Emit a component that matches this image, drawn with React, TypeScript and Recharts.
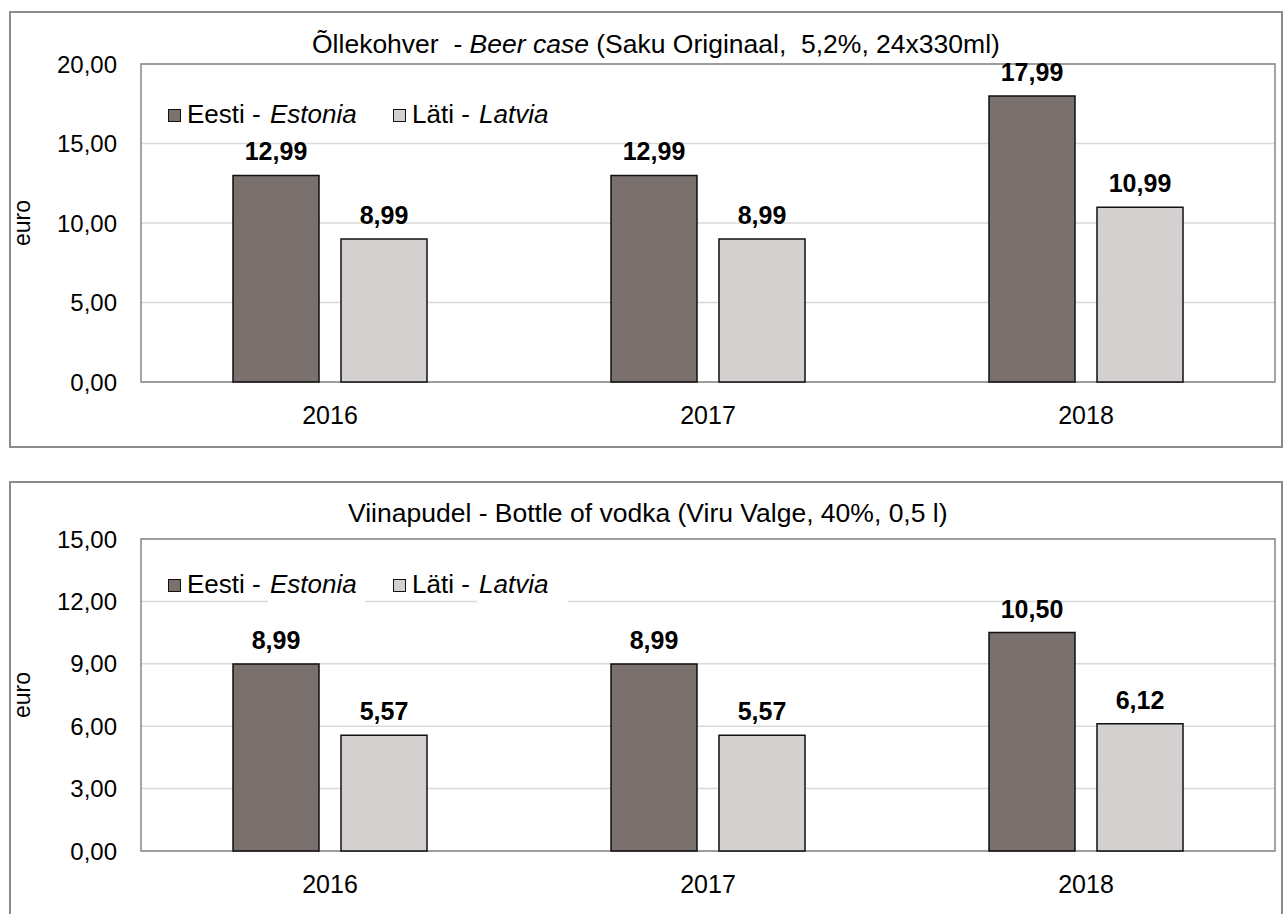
import React from 'react';
import { BarChart, Bar, XAxis, YAxis, CartesianGrid, LabelList, Legend, ReferenceArea } from 'recharts';

const categories = ['2016', '2017', '2018'];
const beerEstonia = [12.99, 12.99, 17.99];
const beerLatvia = [8.99, 8.99, 10.99];
const vodkaEstonia = [8.99, 8.99, 10.5];
const vodkaLatvia = [5.57, 5.57, 6.12];
const beerTicks = [0, 5, 10, 15, 20];
const vodkaTicks = [0, 3, 6, 9, 12, 15];

const FONT = '"Liberation Sans", Arial, Helvetica, sans-serif';
const EST_COLOR = '#7a716f';
const LAT_COLOR = '#d4d0cf';

const fmt = (v: number) => Number(v).toFixed(2).replace('.', ',');

const buildData = (est: number[], lat: number[]) =>
  categories.map((c, i) => ({ year: c, est: est[i], lat: lat[i] }));

const squareStyle = (color: string): React.CSSProperties => ({
  display: 'inline-block',
  width: 11,
  height: 11,
  background: color,
  border: '1.5px solid #111',
  marginRight: 6,
  verticalAlign: '1px',
});

const LegendContent = () => (
  <div style={{ fontFamily: FONT, fontSize: 26, lineHeight: '28px', color: '#000', whiteSpace: 'nowrap' }}>
    <span style={{ display: 'inline-block', width: 225 }}>
      <span style={squareStyle(EST_COLOR)} />
      <span>Eesti - </span>
      <span style={{ fontStyle: 'italic', background: '#fff', padding: '0 8px 6px 2px' }}>Estonia</span>
    </span>
    <span style={{ display: 'inline-block' }}>
      <span style={squareStyle(LAT_COLOR)} />
      <span>Läti - </span>
      <span style={{ fontStyle: 'italic', background: '#fff', padding: '0 20px 6px 2px' }}>Latvia</span>
    </span>
  </div>
);

type PanelProps = {
  top: number;
  height: number;
  marginTop: number;
  marginBottom: number;
  est: number[];
  lat: number[];
  ticks: number[];
  yMax: number;
};

const EuroLabel = (props: any) => {
  const vb = props.viewBox || {};
  const x = 22;
  const y = (vb.y || 0) + (vb.height || 0) / 2;
  return (
    <text x={x} y={y} transform={`rotate(-90 ${x} ${y})`} textAnchor="middle" dominantBaseline="central" fontFamily={FONT} fontSize={23} fill="#000">
      euro
    </text>
  );
};

const Panel = ({ top, height, marginTop, marginBottom, est, lat, ticks, yMax }: PanelProps) => (
  <div style={{ position: 'absolute', left: 0, top, width: 1284, height }}>
    <BarChart
      width={1284}
      height={height}
      data={buildData(est, lat)}
      margin={{ top: marginTop, right: 9, left: 0, bottom: marginBottom }}
      barSize={86}
      barGap={22}
    >
      <CartesianGrid horizontal vertical={false} stroke="#d9d9d9" strokeWidth={1.5} />
      <ReferenceArea y1={0} y2={yMax} fill="none" stroke="#868686" strokeWidth={1.5} ifOverflow="visible" />
      <XAxis
        dataKey="year"
        axisLine={false}
        tickLine={false}
        tickSize={0}
        tickMargin={24}
        height={40}
        tick={{ fill: '#000', fontSize: 25, fontFamily: FONT }}
      />
      <YAxis
        domain={[0, yMax]}
        ticks={ticks}
        width={141}
        axisLine={false}
        tickLine={false}
        tickSize={0}
        tickMargin={24}
        tickFormatter={fmt}
        tick={{ fill: '#000', fontSize: 24, fontFamily: FONT }}
        label={<EuroLabel />}
      />
      <Legend
        layout="horizontal"
        verticalAlign="middle"
        align="center"
        wrapperStyle={{ top: 100, left: 168, width: 'auto' }}
        content={() => <LegendContent />}
      />
      <Bar dataKey="est" fill={EST_COLOR} stroke="#111" strokeWidth={1.5} isAnimationActive={false}>
        <LabelList dataKey="est" position="top" offset={15} formatter={(v: any) => fmt(v)} fill="#000" fontSize={25} fontWeight="bold" fontFamily={FONT} />
      </Bar>
      <Bar dataKey="lat" fill={LAT_COLOR} stroke="#111" strokeWidth={1.5} isAnimationActive={false}>
        <LabelList dataKey="lat" position="top" offset={15} formatter={(v: any) => fmt(v)} fill="#000" fontSize={25} fontWeight="bold" fontFamily={FONT} />
      </Bar>
    </BarChart>
  </div>
);

const titleStyle: React.CSSProperties = {
  position: 'absolute',
  fontFamily: FONT,
  fontSize: 26.5,
  lineHeight: '26px',
  color: '#000',
  whiteSpace: 'pre',
};

export default function App() {
  return (
    <div style={{ position: 'absolute', left: 0, top: 0, width: 1284, height: 914, overflow: 'hidden', background: '#fff' }}>
      <div style={{ position: 'absolute', left: 9, top: 11, width: 1274, height: 437, border: '2px solid #8c8c8c', boxSizing: 'border-box' }} />
      <div style={{ position: 'absolute', left: 9, top: 481, width: 1274, height: 460, border: '2px solid #8c8c8c', boxSizing: 'border-box' }} />
      <Panel top={0} height={450} marginTop={64} marginBottom={28} est={beerEstonia} lat={beerLatvia} ticks={beerTicks} yMax={20} />
      <Panel top={470} height={444} marginTop={69} marginBottom={23} est={vodkaEstonia} lat={vodkaLatvia} ticks={vodkaTicks} yMax={15} />
      <div style={{ ...titleStyle, left: 312, top: 31 }}>
        {'Õllekohver  - '}<i>Beer case</i>{' (Saku Originaal,  5,2%, 24x330ml)'}
      </div>
      <div style={{ ...titleStyle, left: 348, top: 500 }}>
        {'Viinapudel - Bottle of vodka (Viru Valge, 40%, 0,5 l)'}
      </div>
    </div>
  );
}
